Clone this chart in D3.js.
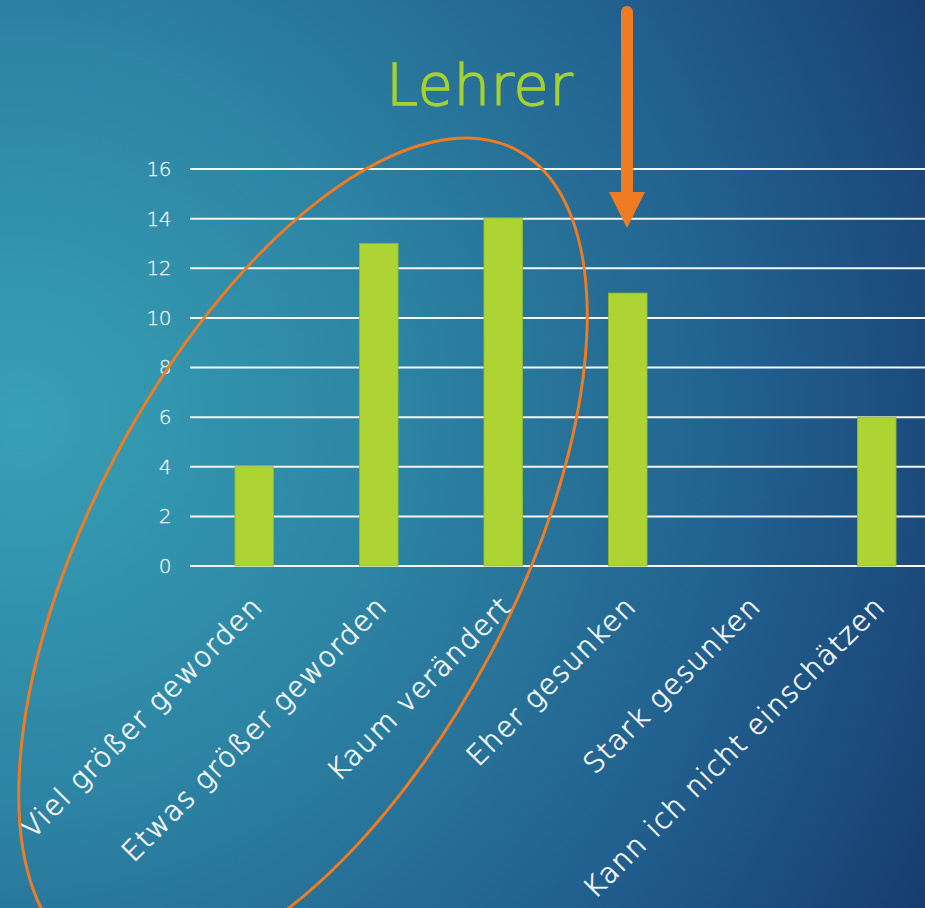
<!DOCTYPE html>
<html><head><meta charset="utf-8">
<script src="https://cdn.jsdelivr.net/npm/d3@7"></script>
<style>html,body{margin:0;padding:0;overflow:hidden;background:#1d5a8a}</style>
</head><body>
<script>
const title = "Lehrer";
const categories = ["Viel größer geworden","Etwas größer geworden","Kaum verändert","Eher gesunken","Stark gesunken","Kann ich nicht einschätzen"];
const values = [4, 13, 14, 11, 0, 6];
const yTicks = [0, 2, 4, 6, 8, 10, 12, 14, 16];

const W = 925, H = 908;
const FONT = "'DejaVu Sans', sans-serif";
const svg = d3.select("body").append("svg").attr("width", W).attr("height", H);
const defs = svg.append("defs");
const rg = defs.append("radialGradient").attr("id","bg")
  .attr("gradientUnits","userSpaceOnUse").attr("cx",20).attr("cy",420).attr("r",1050);
rg.append("stop").attr("offset","0").attr("stop-color","#37a0b6");
rg.append("stop").attr("offset","0.35").attr("stop-color","#2d85a4");
rg.append("stop").attr("offset","0.7").attr("stop-color","#215f8e");
rg.append("stop").attr("offset","1").attr("stop-color","#163a6d");
svg.append("rect").attr("width",W).attr("height",H).attr("fill","url(#bg)");

const x = d3.scaleBand().domain(categories).range([192, 939]).paddingInner(0.69).paddingOuter(0.345);
const y = d3.scaleLinear().domain([0,16]).range([566,169]);

// gridlines
svg.append("g").selectAll("line").data(yTicks).join("line")
  .attr("x1",190).attr("x2",W).attr("y1",d=>y(d)).attr("y2",d=>y(d))
  .attr("stroke","#f4f7f9").attr("stroke-width",2);

// y labels
const yAxis = d3.axisLeft(y).tickValues(yTicks).tickSize(0).tickPadding(0);
const ga = svg.append("g").attr("transform","translate(171,0)").call(yAxis);
ga.select(".domain").remove();
ga.selectAll("text").attr("fill","#eef3f6").attr("font-family",FONT)
  .attr("font-weight",200).attr("font-size",20).attr("letter-spacing",-0.5)
  .attr("stroke","#eef3f6").attr("stroke-width",0.3);

// bars
svg.append("g").selectAll("rect").data(values).join("rect")
  .attr("x",(d,i)=>x(categories[i])).attr("width",x.bandwidth())
  .attr("y",d=>y(d)).attr("height",d=>y(0)-y(d))
  .attr("fill","#add433").attr("stroke","#8fbb2c").attr("stroke-width",0.8);

// category labels
const xAxis = d3.axisBottom(x).tickSize(0).tickPadding(0);
const gx = svg.append("g").attr("transform","translate(0,566)").call(xAxis);
gx.select(".domain").remove();
gx.selectAll("text")
  .attr("text-anchor","end").attr("x",0).attr("y",0).attr("dy",0)
  .attr("transform","translate(10,42) rotate(-45)")
  .attr("fill","#f2f6f8").attr("stroke","#f2f6f8").attr("stroke-width",0.7)
  .attr("font-family",FONT)
  .attr("font-weight",200).attr("font-size",28).attr("letter-spacing",1.4);

// title
svg.append("text").attr("x",480).attr("y",105).attr("text-anchor","middle")
  .attr("fill","#a9d12e").attr("stroke","#a9d12e").attr("stroke-width",1.4)
  .attr("font-family",FONT)
  .attr("font-weight",200).attr("font-size",57).attr("letter-spacing",0.8).text(title);

// annotations: ellipse
const orange = "#ef7b23";
svg.append("ellipse").attr("cx",0).attr("cy",0).attr("rx",458).attr("ry",212)
  .attr("transform","translate(303,555) rotate(-62.2)")
  .attr("fill","none").attr("stroke",orange).attr("stroke-width",3);

// arrow
svg.append("line").attr("x1",627).attr("x2",627).attr("y1",12).attr("y2",196)
  .attr("stroke",orange).attr("stroke-width",12).attr("stroke-linecap","round");
svg.append("path").attr("d","M609,192 L645,192 L627,228 Z").attr("fill",orange);
</script>
</body></html>
